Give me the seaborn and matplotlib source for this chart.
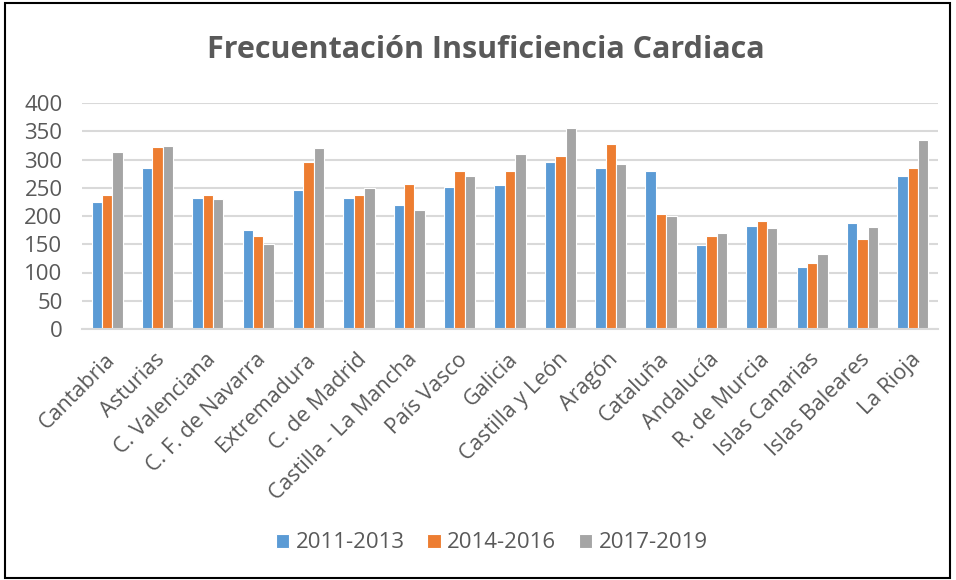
import matplotlib
matplotlib.use("Agg")
import matplotlib.pyplot as plt
import matplotlib.transforms as mtrans
import seaborn as sns
import pandas as pd
from matplotlib.patches import Rectangle

categories = ["Cantabria", "Asturias", "C. Valenciana", "C. F. de Navarra", "Extremadura",
              "C. de Madrid", "Castilla - La Mancha", "País Vasco", "Galicia",
              "Castilla y León", "Aragón", "Cataluña", "Andalucía", "R. de Murcia",
              "Islas Canarias", "Islas Baleares", "La Rioja"]
series_names = ["2011-2013", "2014-2016", "2017-2019"]
v2011_2013 = [225, 285, 232, 175, 246, 231, 220, 251, 255, 295, 285, 280, 148, 182, 109, 188, 271]
v2014_2016 = [238, 323, 237, 165, 295, 238, 257, 280, 280, 306, 328, 204, 165, 192, 117, 159, 285]
v2017_2019 = [313, 324, 230, 151, 320, 250, 210, 271, 310, 355, 292, 200, 170, 179, 133, 180, 335]
yticks = [0, 50, 100, 150, 200, 250, 300, 350, 400]
title = "Frecuentación Insuficiencia Cardiaca"
colors = ["#5B9BD5", "#ED7D31", "#A5A5A5"]

rows = []
for name, vals in zip(series_names, [v2011_2013, v2014_2016, v2017_2019]):
    for c, v in zip(categories, vals):
        rows.append({"Comunidad": c, "Periodo": name, "Valor": v})
df = pd.DataFrame(rows)

sns.set_theme(style="white")
plt.rcParams["font.family"] = ["Open Sans", "DejaVu Sans"]
text_color = "#595959"

fig = plt.figure(figsize=(9.56, 5.8), dpi=100)
ax = fig.add_axes([82/956, 1-329/580, (938-82)/956, (329-103)/580])

sns.barplot(data=df, x="Comunidad", y="Valor", hue="Periodo", order=categories,
            hue_order=series_names, palette=colors, width=0.62, ax=ax,
            edgecolor="white", linewidth=0.8, saturation=1, errorbar=None)

ax.set_ylim(0, 400)
ax.set_xlim(-0.5, len(categories) - 0.5)
ax.set_yticks(yticks)
ax.set_yticklabels([str(t) for t in yticks], fontsize=16, color=text_color)
ax.tick_params(axis="y", length=0, pad=14)
ax.tick_params(axis="x", length=0, pad=8)
ax.set_xticks(range(len(categories)))
ax.set_xticklabels(categories, rotation=45, ha="right", rotation_mode="anchor",
                   fontsize=15.5, color=text_color)
offset = mtrans.ScaledTranslation(-3/100, -9/100, fig.dpi_scale_trans)
for lbl in ax.get_xticklabels():
    lbl.set_transform(lbl.get_transform() + offset)
ax.set_xlabel("")
ax.set_ylabel("")
ax.grid(axis="y", color="#D9D9D9", linewidth=1.5)
ax.set_axisbelow(True)
for s in ["top", "right", "left"]:
    ax.spines[s].set_visible(False)
ax.spines["bottom"].set_color("#D9D9D9")
ax.spines["bottom"].set_linewidth(1.5)

leg = ax.legend(loc="center", bbox_to_anchor=(492/956, 1 - 543/580), bbox_transform=fig.transFigure,
                ncol=3, frameon=False, fontsize=16, handlelength=0.6, handleheight=0.6,
                columnspacing=1.0, handletextpad=0.3)
for t in leg.get_texts():
    t.set_color(text_color)

fig.text(486/956, 1 - 50/580, title, ha="center", va="center", fontsize=22,
         fontweight="bold", color=text_color)

fig.patches.append(Rectangle((5/956, 2/580), 945/956, 575/580, transform=fig.transFigure,
                             fill=False, edgecolor="black", linewidth=1.5))

fig.savefig("out.png", dpi=100)
